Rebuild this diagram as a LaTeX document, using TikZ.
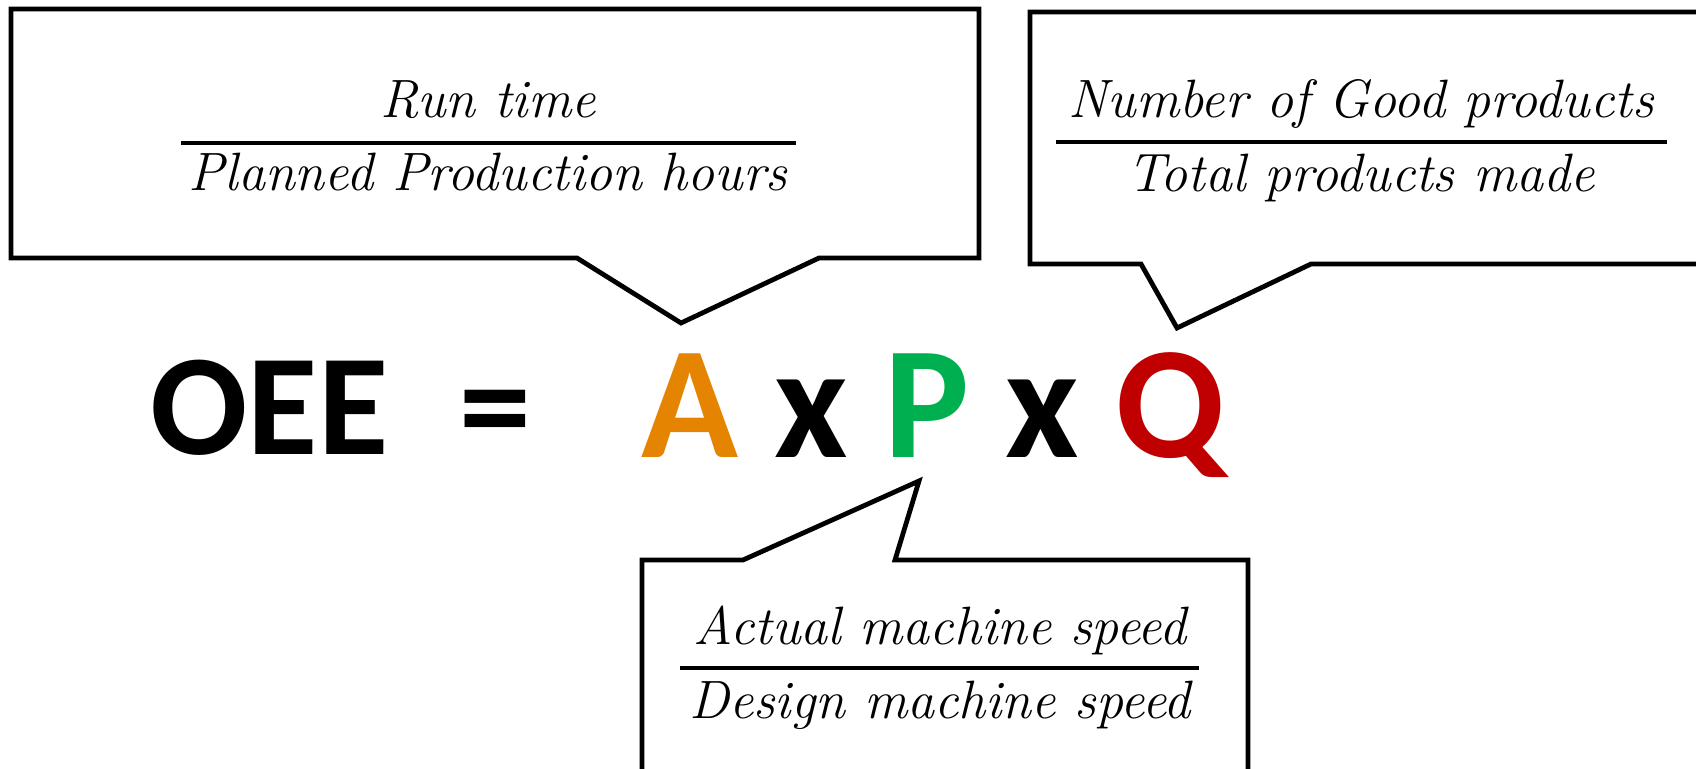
\documentclass[tikz,border=0pt]{standalone}
\usepackage{fontspec}
\newfontfamily\calibfont{Carlito}
\definecolor{availorange}{RGB}{228,132,0}
\definecolor{perfgreen}{RGB}{0,176,80}
\definecolor{qualred}{RGB}{192,0,0}
\newcommand{\ratiofnt}{\fontsize{27}{32}\selectfont\itshape\addfontfeatures{LetterSpace=5}}
\newcommand{\oeefnt}{\calibfont\bfseries\fontsize{72}{80}\selectfont}
\newcommand{\apqfnt}{\calibfont\bfseries\fontsize{80}{90}\selectfont}
\begin{document}
\begin{tikzpicture}[x=0.5pt,y=-0.5pt,
  bubble/.style={draw=black, line width=2.4pt, line join=miter, fill=white},
  ratio/.style={inner sep=0pt, anchor=base, font=\ratiofnt},
  bar/.style={line width=1.7pt},
  big/.style={inner sep=0pt, font=\oeefnt},
  apq/.style={inner sep=0pt, font=\apqfnt}]
\useasboundingbox (0,0) rectangle (1696,769);
\clip (0,0) rectangle (1696,769);

% callout shapes
\draw[bubble] (11,9) -- (979,9) -- (979,258) -- (819,258) -- (681,323)
  -- (577,258) -- (11,258) -- cycle;
\draw[bubble] (1030,12) -- (1710,12) -- (1710,264) -- (1311,264)
  -- (1177,328) -- (1141,264) -- (1030,264) -- cycle;
\draw[bubble] (642,560) -- (743,560) -- (919,481) -- (895,560)
  -- (1248,560) -- (1248,790) -- (642,790) -- cycle;

% availability ratio
\node[ratio] (anum) at (488,118) {Run time};
\node[ratio] (aden) at (488,191) {Planned Production hours};
\coordinate (abl) at (181,143);
\coordinate (abr) at (796,143);
\draw[bar] (abl) -- (abr);

% quality ratio
\node[ratio] (qnum) at (1361,118) {Number of Good products};
\node[ratio] (qden) at (1361,192) {Total products made};
\coordinate (qbl) at (1056,142);
\coordinate (qbr) at (1667,142);
\draw[bar] (qbl) -- (qbr);

% performance ratio
\node[ratio] (pnum) at (940,644) {Actual machine speed};
\node[ratio] (pden) at (940,718) {Design machine speed};
\coordinate (pbl) at (680,668);
\coordinate (pbr) at (1199,668);
\draw[bar] (pbl) -- (pbr);

% formula
\node[big, anchor=base west] (oee) at (150,455) {OEE};
\node[big, anchor=base] (eq) at (495,455) {=};
\node[apq, anchor=base west] (apq) at (641,458)
  {\textcolor{availorange}{A} x \textcolor{perfgreen}{P} x \textcolor{qualred}{Q}};
\end{tikzpicture}
\end{document}
